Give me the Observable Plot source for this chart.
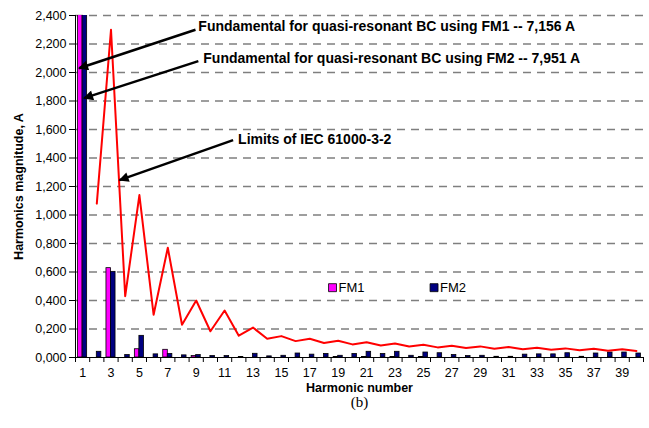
<!DOCTYPE html>
<html>
<head>
<meta charset="utf-8">
<script src="https://cdn.jsdelivr.net/npm/d3@7"></script>
<script src="https://cdn.jsdelivr.net/npm/@observablehq/plot@0.6"></script>
<style>
  html, body { margin: 0; padding: 0; background: #fff; }
  #chart svg { display: block; }
</style>
</head>
<body>
<div id="chart"></div>
<script>
// Harmonic orders
const harmonics = [1,2,3,4,5,6,7,8,9,10,11,12,13,14,15,16,17,18,19,20,
                   21,22,23,24,25,26,27,28,29,30,31,32,33,34,35,36,37,38,39,40];
// FM1 harmonic magnitudes, A
const fm1 = [7.156,0,0.627,0,0.058,0,0.054,0,0.010,0,0,0,0,0,0,0,0,0,0.004,0,
             0.004,0,0.004,0,0.004,0,0,0,0,0,0,0,0,0,0,0,0,0,0,0];
// FM2 harmonic magnitudes, A
const fm2 = [7.951,0.040,0.601,0.017,0.152,0.022,0.025,0.015,0.017,0.010,0.010,0.004,0.026,0.008,0.012,0.028,0.020,0.025,0.012,0.025,
             0.040,0.025,0.040,0.012,0.035,0.030,0.017,0.010,0.012,0.005,0.005,0.020,0.022,0.022,0.030,0.005,0.028,0.035,0.035,0.028];
// IEC 61000-3-2 limits, harmonics 2..40
const iecHarmonics = harmonics.slice(1);
const iecLimits = [1.08,2.30,0.43,1.14,0.30,0.77,0.23,0.40,0.184,0.33,0.153,0.21,0.131,0.15,0.115,0.132,0.102,0.118,0.092,
                   0.107,0.084,0.098,0.077,0.090,0.071,0.083,0.066,0.078,0.061,0.073,0.058,0.068,0.054,0.064,0.051,0.061,0.048,0.058,0.046];
// Axis ticks
const yTicks = [0,0.2,0.4,0.6,0.8,1.0,1.2,1.4,1.6,1.8,2.0,2.2,2.4];
const xTickLabels = [1,3,5,7,9,11,13,15,17,19,21,23,25,27,29,31,33,35,37,39];
const seriesNames = ["FM1", "FM2"];
const seriesColors = ["#FF00FF", "#000080"];
const annotations = [
  "Fundamental for quasi-resonant BC using FM1 -- 7,156 A",
  "Fundamental for quasi-resonant BC using FM2 -- 7,951 A",
  "Limits of IEC 61000-3-2"
];

const bars1 = harmonics.map((h, i) => ({h, v: fm1[i]})).filter(d => d.v > 0);
const bars2 = harmonics.map((h, i) => ({h, v: fm2[i]})).filter(d => d.v > 0);
const iec = iecHarmonics.map((h, i) => ({h, v: iecLimits[i]}));
const boundaries = [0, ...harmonics].map(h => h + 0.5);

// annotation layout (data coordinates)
const notes = [
  {text: annotations[0], x: 9.15, y: 2.32, ax1: 8.95, ay1: 2.30, ax2: 0.75, ay2: 2.03},
  {text: annotations[1], x: 9.5, y: 2.095, ax1: 9.15, ay1: 2.08, ax2: 1.1, ay2: 1.82},
  {text: annotations[2], x: 11.95, y: 1.53, ax1: 11.6, ay1: 1.525, ax2: 3.6, ay2: 1.245}
];
const legend = [
  {name: seriesNames[0], color: seriesColors[0], x: 18.6, y: 0.49},
  {name: seriesNames[1], color: seriesColors[1], x: 25.75, y: 0.49}
];

const fmt = d => d.toFixed(3).replace(".", ",");

const chart = Plot.plot({
  width: 649,
  height: 428,
  marginLeft: 75,
  marginRight: 6,
  marginTop: 15,
  marginBottom: 71,
  style: {fontFamily: "'Liberation Sans', Arial, sans-serif", fontSize: "12px", background: "#fff", color: "#000"},
  x: {domain: [0.5, 40.5], axis: null},
  y: {domain: [0, 2.4], axis: null},
  marks: [
    // dashed gridlines
    Plot.ruleY(yTicks.slice(1), {x1: 0.5, x2: 40.5, stroke: "#7f7f7f", strokeWidth: 1.5, strokeDasharray: "8,6", strokeOpacity: 1}),
    // y axis
    Plot.axisY(yTicks, {tickSize: 6, tickPadding: 3, tickFormat: fmt, label: null, fontSize: 12.5, stroke: "#000"}),
    Plot.ruleX([0.5], {stroke: "#000", strokeWidth: 1}),
    // bars
    Plot.rectY(bars1, {x1: d => d.h - 0.32, x2: d => d.h, y1: 0, y2: "v", fill: seriesColors[0], stroke: "#000", strokeWidth: 0.8, clip: true}),
    Plot.rectY(bars2, {x1: d => d.h, x2: d => d.h + 0.32, y1: 0, y2: "v", fill: seriesColors[1], stroke: "#000", strokeWidth: 0.8, clip: true}),
    // IEC limits line
    Plot.line(iec, {x: "h", y: "v", stroke: "#FF0000", strokeWidth: 2}),
    // x axis
    Plot.ruleY([0], {x1: 0.5, x2: 40.5, stroke: "#000", strokeWidth: 1}),
    Plot.axisX(boundaries, {tickSize: 5, tickFormat: () => "", label: null}),
    Plot.axisX(xTickLabels, {tickSize: 0, tickPadding: 11, label: null, fontSize: 12.5}),
    // axis titles
    Plot.text(["Harmonic number"], {frameAnchor: "bottom", dy: 34, fontWeight: "bold", fontSize: 12.5}),
    Plot.text(["(b)"], {frameAnchor: "bottom", dy: 49, fontFamily: "'Liberation Serif', 'Times New Roman', serif", fontSize: 15}),
    Plot.text(["Harmonics magnitude, A"], {frameAnchor: "left", textAnchor: "middle", dx: -57, rotate: -90, fontWeight: "bold", fontSize: 12.5}),
    // annotations
    Plot.link(notes, {x1: "ax1", y1: "ay1", x2: "ax2", y2: "ay2", stroke: "#000", strokeWidth: 2.5}),
    Plot.text(notes, {x: "x", y: "y", text: "text", textAnchor: "start", fontWeight: "bold", fontSize: 14}),
    // legend
    Plot.dot(legend, {x: "x", y: "y", symbol: "square", r: 4.5, fill: "color", stroke: "#000", strokeWidth: 0.8}),
    Plot.text(legend, {x: "x", y: "y", text: "name", textAnchor: "start", dx: 6, fontSize: 13})
  ]
});

// filled arrowheads for the annotation links
const svg = d3.select(chart);
const defs = svg.insert("defs", ":first-child");
defs.append("marker")
  .attr("id", "ann-head")
  .attr("viewBox", "0 0 10 10")
  .attr("refX", 9)
  .attr("refY", 5)
  .attr("markerUnits", "userSpaceOnUse")
  .attr("markerWidth", 13)
  .attr("markerHeight", 10)
  .attr("orient", "auto")
  .append("path")
  .attr("d", "M0,0L10,5L0,10z")
  .attr("fill", "#000")
  .attr("stroke", "none");
svg.selectAll("g[aria-label='link'] path").attr("marker-end", "url(#ann-head)");

document.getElementById("chart").appendChild(chart);
</script>
</body>
</html>
